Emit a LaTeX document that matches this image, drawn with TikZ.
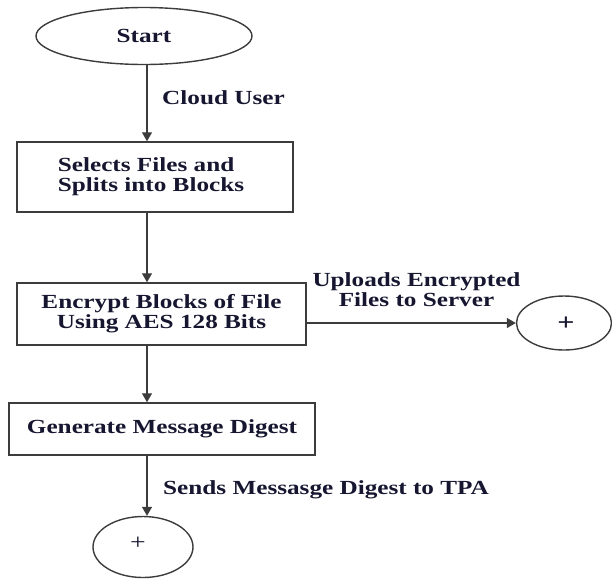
\documentclass[tikz,border=0pt]{standalone}
\usepackage{fontspec}
\setmainfont{Liberation Serif}[FakeStretch=1.26]
\usetikzlibrary{shapes.geometric,arrows.meta}
\definecolor{ink}{RGB}{22,22,48}
\definecolor{linec}{RGB}{60,60,60}
\tikzset{
  lbl/.style={text=ink,font=\fontsize{20}{20}\selectfont\bfseries,inner sep=0pt},
  procbox/.style={draw=linec,line width=1.5pt,rectangle,inner sep=0pt,text=ink,font=\fontsize{20}{20}\selectfont\bfseries},
  oval/.style={draw=linec,line width=1.4pt,ellipse,inner sep=0pt,text=ink,font=\fontsize{20}{20}\selectfont\bfseries},
  flow/.style={draw=linec,line width=1.4pt,-{Triangle[length=9pt,width=10pt]}}
}
\begin{document}
\begin{tikzpicture}[x=1pt,y=1pt]
\useasboundingbox (0,0) rectangle (612,-579);
\coordinate (spine) at (147,0);
\node[oval,minimum width=216pt,minimum height=57pt] (start) at (144,-36) {Start};
\node[procbox,minimum width=276pt,minimum height=70pt,align=left] (box1) at (155,-177) {\hspace*{-8pt}Selects Files and\\\hspace*{-8pt}Splits into Blocks};
\node[procbox,minimum width=289pt,minimum height=62pt,align=center] (box2) at (161.5,-314) {Encrypt Blocks of File\\Using AES 128 Bits};
\node[procbox,minimum width=306pt,minimum height=52pt] (box3) at (162,-429) {Generate Message Digest};
\node[oval,minimum width=95pt,minimum height=54pt] (circ1) at (564,-323) {};
\node[oval,minimum width=100pt,minimum height=61pt] (circ2) at (143,-547) {};
\node[text=ink,font=\fontsize{24}{24}\selectfont\bfseries,inner sep=0pt] (plus1) at (566,-324) {+};
\node[text=ink,font=\fontsize{22}{22}\selectfont,inner sep=0pt] (plus2) at (138,-543) {+};
\draw[flow] (spine |- start.south) -- (spine |- box1.north);
\draw[flow] (spine |- box1.south) -- (spine |- box2.north);
\draw[flow] (spine |- box2.south) -- (spine |- box3.north);
\draw[flow] (spine |- box3.south) -- (spine |- circ2.north);
\draw[flow] (box2.east |- circ1.west) -- (circ1.west);
\node[lbl,anchor=west] (l1) at (162,-98) {Cloud User};
\node[lbl,align=center] (l2) at (416.5,-290) {Uploads Encrypted\\Files to Server};
\node[lbl,anchor=west] (l3) at (163,-490) {Sends Messasge Digest to TPA};
\end{tikzpicture}
\end{document}
